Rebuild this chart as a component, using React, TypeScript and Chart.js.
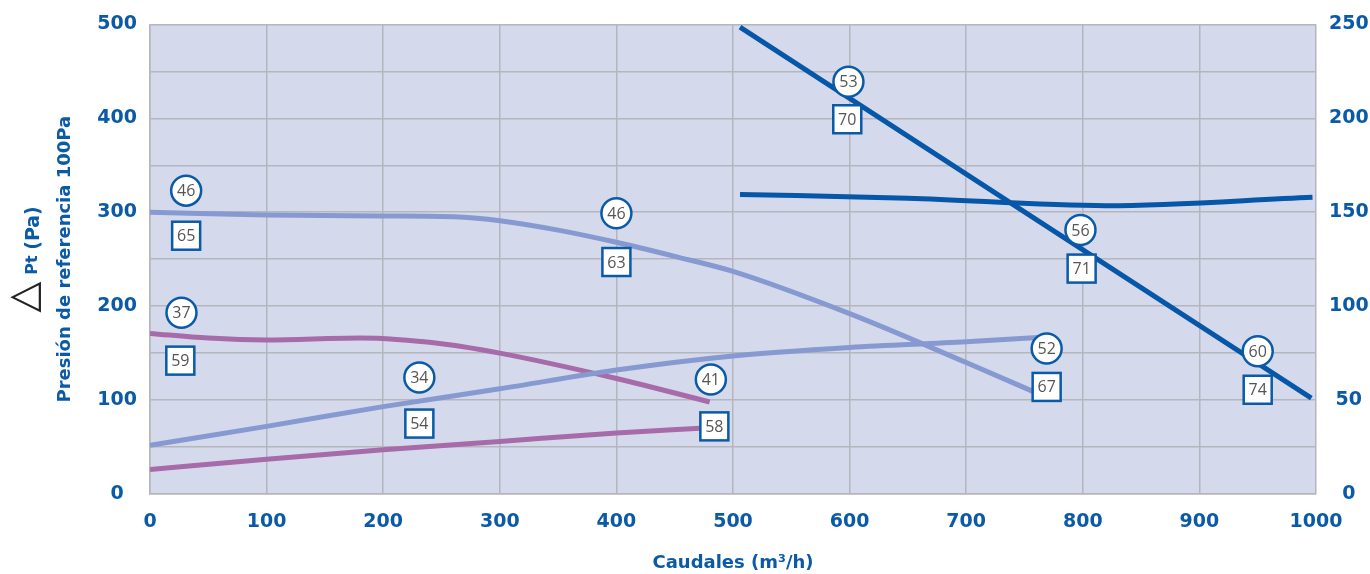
import React, { useEffect, useRef } from 'react';
import { Chart, registerables } from 'chart.js';
Chart.register(...registerables);

const BLUE = '#0b5aa7';
const LIGHT = '#8799d1';
const PURPLE = '#a76baa';
const DARK = '#0657a8';
const GRID = '#b4b5bd';
const BG = '#d4daec';
const FONT = '"Open Sans", sans-serif';
const AXFONT = '"DejaVu Sans", sans-serif';

// Series (x = caudal m3/h, y = left axis Pa)
const lightDescX = [0, 100, 200, 265, 300, 350, 400, 450, 500, 600, 700, 765];
const lightDescY = [300, 297, 296, 295, 291, 281, 268, 253, 237, 192, 140, 105];

const lightAscX = [0, 100, 200, 300, 400, 500, 600, 700, 765];
const lightAscY = [52, 72, 93, 112, 132, 147, 156, 162, 167];

const purpleDescX = [0, 50, 100, 180, 250, 300, 400, 480];
const purpleDescY = [171, 166, 164, 166, 160, 150, 123, 98];

const purpleAscX = [0, 100, 200, 300, 400, 472];
const purpleAscY = [26, 37, 47, 56, 65, 70];

const darkDescX = [506, 996];
const darkDescY = [497, 102];

const darkFlatX = [506, 650, 820, 997];
const darkFlatY = [319, 315, 307, 316];

// Annotations
const circleLabels = ['46', '37', '34', '46', '41', '53', '56', '52', '60'];
const circleX = [31, 27, 231, 400, 481, 599, 798, 769, 950];
const circleY = [323, 193, 124, 299, 122, 439, 281, 155, 152];

const squareLabels = ['65', '59', '54', '63', '58', '70', '71', '67', '74'];
const squareX = [31, 26, 231, 400, 484, 598, 799, 769, 950];
const squareY = [275, 142, 75, 247, 72, 399, 240, 114, 111];

const xTicksStep = 100;
const leftMax = 500;
const rightMax = 250;

const zip = (xs: number[], ys: number[]) => xs.map((x, i) => ({ x, y: ys[i] }));

const mkSet = (xs: number[], ys: number[], color: string) => ({
  data: zip(xs, ys),
  borderColor: color,
  borderWidth: 5,
  pointRadius: 0,
  fill: false,
  tension: 0.4,
  cubicInterpolationMode: 'monotone' as const,
  yAxisID: 'y',
});

const bgPlugin = {
  id: 'bg',
  beforeDraw(chart: any) {
    const { ctx, chartArea: a } = chart;
    ctx.save();
    ctx.fillStyle = BG;
    ctx.fillRect(a.left, a.top, a.right - a.left, a.bottom - a.top);
    ctx.restore();
  },
};

const annoPlugin = {
  id: 'anno',
  afterDatasetsDraw(chart: any) {
    const { ctx } = chart;
    const xs = chart.scales.x;
    const ys = chart.scales.y;
    ctx.save();
    ctx.lineWidth = 2.5;
    ctx.strokeStyle = BLUE;
    ctx.textAlign = 'center';
    ctx.textBaseline = 'middle';
    ctx.font = `16px ${FONT}`;
    circleLabels.forEach((t, i) => {
      const px = xs.getPixelForValue(circleX[i]);
      const py = ys.getPixelForValue(circleY[i]);
      ctx.beginPath();
      ctx.arc(px, py, 15, 0, Math.PI * 2);
      ctx.fillStyle = '#fff';
      ctx.fill();
      ctx.stroke();
      ctx.fillStyle = '#555';
      ctx.fillText(t, px, py + 1);
    });
    squareLabels.forEach((t, i) => {
      const px = xs.getPixelForValue(squareX[i]);
      const py = ys.getPixelForValue(squareY[i]);
      ctx.fillStyle = '#fff';
      ctx.fillRect(px - 14, py - 14, 28, 28);
      ctx.strokeRect(px - 14, py - 14, 28, 28);
      ctx.fillStyle = '#555';
      ctx.fillText(t, px, py + 1);
    });
    ctx.restore();
  },
  afterDraw(chart: any) {
    const { ctx, chartArea: a } = chart;
    ctx.save();
    ctx.fillStyle = BLUE;
    ctx.textAlign = 'center';
    ctx.textBaseline = 'middle';
    ctx.font = `bold 18px ${AXFONT}`;
    ctx.fillText('Caudales (m³/h)', (a.left + a.right) / 2, 563);

    const cy = (a.top + a.bottom) / 2;
    ctx.save();
    ctx.translate(65, cy);
    ctx.rotate(-Math.PI / 2);
    ctx.fillText('Presión de referencia 100Pa', 0, 0);
    ctx.restore();

    ctx.save();
    ctx.translate(34, 228);
    ctx.rotate(-Math.PI / 2);
    ctx.font = `bold 19px ${AXFONT}`;
    ctx.fillText('(Pa)', 0, 0);
    ctx.restore();

    ctx.save();
    ctx.translate(33, 265);
    ctx.rotate(-Math.PI / 2);
    ctx.font = `bold 16px ${AXFONT}`;
    ctx.fillText('Pt', 0, 0);
    ctx.restore();

    ctx.save();
    ctx.translate(26, 297);
    ctx.rotate(-Math.PI / 2);
    ctx.fillStyle = '#222';
    ctx.font = `40px "DejaVu Sans"`;
    ctx.fillText('△', 0, 0);
    ctx.restore();

    ctx.restore();
  },
};

export default function App() {
  const ref = useRef<HTMLCanvasElement>(null);
  useEffect(() => {
    const tickFont = { family: AXFONT, weight: 'bold' as const, size: 19 };
    const chart = new Chart(ref.current!, {
      type: 'line',
      data: {
        datasets: [
          mkSet(lightDescX, lightDescY, LIGHT),
          mkSet(lightAscX, lightAscY, LIGHT),
          mkSet(purpleDescX, purpleDescY, PURPLE),
          mkSet(purpleAscX, purpleAscY, PURPLE),
          { ...mkSet(darkDescX, darkDescY, DARK), tension: 0 },
          mkSet(darkFlatX, darkFlatY, DARK),
        ] as any,
      },
      options: {
        responsive: true,
        maintainAspectRatio: false,
        animation: false,
        layout: { padding: { top: 22, left: 0, right: 0, bottom: 0 } },
        plugins: { legend: { display: false }, tooltip: { enabled: false } },
        scales: {
          x: {
            type: 'linear',
            min: 0,
            max: 1000,
            ticks: {
              stepSize: xTicksStep,
              color: BLUE,
              font: tickFont,
              padding: 17,
              maxRotation: 0,
              callback: (v: any) => String(v),
            },
            grid: { color: GRID, lineWidth: 1.5, drawTicks: false },
            border: { color: GRID, width: 1.5 },
            afterFit: (s: any) => { s.height = 80; },
          },
          y: {
            position: 'left',
            min: 0,
            max: leftMax,
            ticks: {
              stepSize: 50,
              color: BLUE,
              font: tickFont,
              padding: 13,
              crossAlign: 'center',
              autoSkip: false,
              callback: (v: any) => (Number(v) % 100 === 0 ? String(v) : ''),
            },
            grid: { color: GRID, lineWidth: 1.5, drawTicks: false },
            border: { color: GRID, width: 1.5 },
            afterFit: (s: any) => { s.width = 150; },
          },
          y2: {
            position: 'right',
            min: 0,
            max: rightMax,
            ticks: {
              stepSize: 50,
              color: BLUE,
              font: tickFont,
              padding: 13,
              crossAlign: 'center',
              callback: (v: any) => String(v),
            },
            grid: { display: false, drawTicks: false },
            border: { display: false },
            afterFit: (s: any) => { s.width = 54; },
          },
        },
      } as any,
      plugins: [bgPlugin, annoPlugin],
    });
    return () => chart.destroy();
  }, []);
  return (
    <div style={{ position: 'absolute', left: 0, top: 0, width: 1370, height: 574 }}>
      <canvas ref={ref} />
    </div>
  );
}
